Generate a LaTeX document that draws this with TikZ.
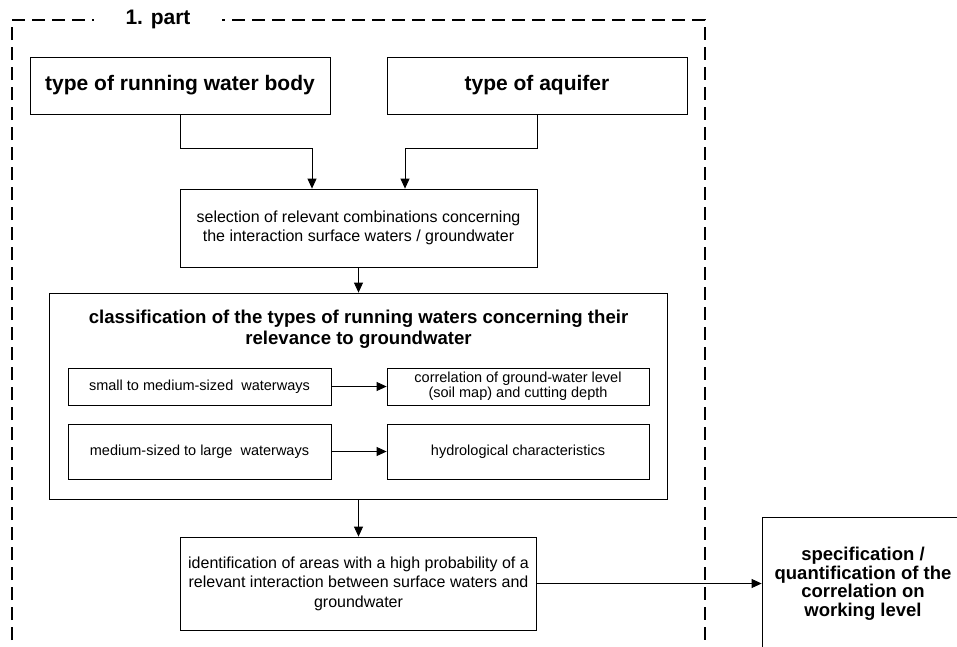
\documentclass[tikz,border=0pt]{standalone}
\usepackage{fontspec}
\setmainfont{Liberation Sans}
\usetikzlibrary{positioning,arrows.meta}

\begin{document}
\begin{tikzpicture}[x=1pt, y=-1pt, on grid, line width=0.8pt,
	>={Triangle[length=10pt,width=9pt]},
	box/.style={draw, align=center, inner sep=0pt},
	bigtext/.style={font=\fontsize{21}{25}\selectfont\bfseries},
	titletext/.style={font=\fontsize{18.6}{21}\selectfont\bfseries, align=center},
	spectext/.style={font=\fontsize{18.5}{18.5}\selectfont\bfseries},
	txt/.style={font=\fontsize{16}{19.5}\selectfont},
	minor/.style={font=\fontsize{14.5}{15}\selectfont},
	frame/.style={dash pattern=on 13pt off 7pt, line width=1.3pt}]
\useasboundingbox (0,0) rectangle (957,646);
\clip (0,0) rectangle (957,646);

% dashed frame of the first part
\coordinate (f_bl) at (12,660);
\coordinate (f_tl) at (12,20);
\coordinate (f_tr) at (705,20);
\coordinate (f_br) at (705,660);
\draw[frame] (f_bl) -- (f_tl) -- (f_tr) -- (f_br);
\node[bigtext, fill=white, inner xsep=32pt, inner ysep=1pt]	(part)	at (158,19)	{1. part};

\node[box, bigtext, minimum width=300pt, minimum height=57pt]	(water)	at (180,85.5)	{type of running water body};
\node[box, bigtext, minimum width=300pt, minimum height=57pt]	(aquifer)	[right=357pt of water]	{type of aquifer};
\node[box, txt, minimum width=357pt, minimum height=78pt]	(select)	[below right=142.5pt and 178.5pt of water]	{selection of relevant combinations concerning\\the interaction surface waters / groundwater};
\node[box, minimum width=618pt, minimum height=206pt]	(classif)	[below=168pt of select]	{};
\node[titletext]	(classtitle)	[above=67pt of classif]	{classification of the types of running waters concerning their\\relevance to groundwater};
\node[box, minor, minimum width=263pt, minimum height=37pt]	(smallway)	[above left=9.5pt and 159pt of classif]	{small to medium-sized\ \ waterways};
\node[box, minor, minimum width=262pt, minimum height=37pt]	(groundlevel)	[right=318.5pt of smallway]	{correlation of ground-water level\\(soil map) and cutting depth};
\node[box, minor, minimum width=263pt, minimum height=55pt]	(largeway)	[below=65pt of smallway]	{medium-sized to large\ \ waterways};
\node[box, minor, minimum width=262pt, minimum height=55pt]	(hydro)	[right=318.5pt of largeway]	{hydrological characteristics};
\node[box, txt, minimum width=356pt, minimum height=93pt]	(ident)	[below=187.5pt of classif]	{identification of areas with a high probability of a\\relevant interaction between surface waters and\\groundwater};
\node[box, spectext, minimum width=202pt, minimum height=133pt]	(spec)	[right=504.5pt of ident]	{specification /\\quantification of the\\correlation on\\working level};

\draw[->]	(water.south) -- ++(0,34) -| ([xshift=-46.5pt]select.north);
\draw[->]	(aquifer.south) -- ++(0,34) -| ([xshift=46.5pt]select.north);
\path[->]	(select)	edge	(classif)
			(smallway)	edge	(groundlevel)
			(largeway)	edge	(hydro)
			(classif)	edge	(ident)
			(ident)	edge	(spec);
\end{tikzpicture}
\end{document}
